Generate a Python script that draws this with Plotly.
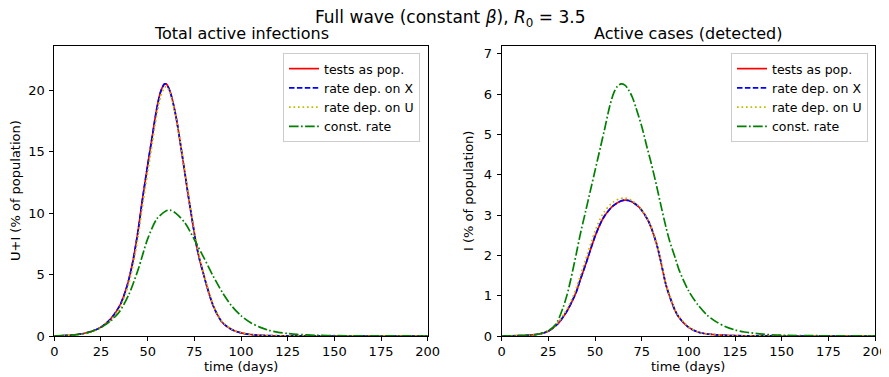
import plotly.graph_objects as go

# ---------------- data ----------------
# Left panel: total active infections U+I (% of population)
days_L = [0, 5, 10, 15, 20, 25, 30, 35, 38, 40, 42, 45, 47, 50, 52, 55, 57, 59, 60, 62,
          65, 68, 70, 72, 74, 76, 78, 80, 82, 85, 88, 90, 95, 100, 105, 110, 120, 130, 150, 175, 200]
tests_pop_L = [0.01, 0.03, 0.08, 0.18, 0.38, 0.72, 1.35, 2.45, 3.6, 4.65, 6.0, 8.7, 10.9, 13.9, 15.8, 18.6, 19.9, 20.5, 20.5, 19.9,
               18.0, 15.2, 13.2, 11.2, 9.3, 7.5, 6.1, 5.0, 3.9, 2.5, 1.55, 1.1, 0.52, 0.25, 0.12, 0.06, 0.02, 0.01, 0.0, 0.0, 0.0]
rate_X_L = [0.01, 0.03, 0.08, 0.18, 0.38, 0.72, 1.35, 2.45, 3.6, 4.65, 6.0, 8.7, 10.9, 13.9, 15.8, 18.6, 19.9, 20.5, 20.5, 19.9,
            18.0, 15.2, 13.2, 11.2, 9.3, 7.5, 6.1, 5.0, 3.9, 2.5, 1.55, 1.1, 0.52, 0.25, 0.12, 0.06, 0.02, 0.01, 0.0, 0.0, 0.0]
rate_U_L = [0.01, 0.03, 0.07, 0.16, 0.34, 0.66, 1.25, 2.25, 3.35, 4.35, 5.6, 8.2, 10.3, 13.3, 15.2, 18.1, 19.5, 20.2, 20.3, 19.8,
            17.9, 15.3, 13.4, 11.4, 9.5, 7.7, 6.2, 5.1, 4.0, 2.6, 1.6, 1.15, 0.55, 0.27, 0.13, 0.07, 0.02, 0.01, 0.0, 0.0, 0.0]

days_GL = [0, 5, 10, 15, 20, 25, 30, 35, 40, 45, 50, 55, 60, 62, 65, 70, 75, 80, 85, 90, 95,
           100, 105, 110, 115, 120, 125, 130, 140, 150, 175, 200]
const_L = [0.01, 0.03, 0.08, 0.18, 0.37, 0.7, 1.2, 2.0, 3.4, 5.45, 7.9, 9.55, 10.2, 10.25, 10.0, 9.2, 7.85, 6.4, 4.9, 3.55, 2.45,
           1.65, 1.1, 0.72, 0.46, 0.3, 0.2, 0.13, 0.06, 0.03, 0.01, 0.0]

# Right panel: detected active cases I (% of population)
days_R = [0, 10, 15, 20, 25, 30, 33, 35, 38, 40, 42, 45, 48, 50, 53, 55, 58, 60, 63, 66, 68, 70,
          73, 75, 78, 80, 83, 85, 88, 90, 93, 95, 100, 105, 110, 115, 120, 130, 150, 200]
tests_pop_R = [0.0, 0.01, 0.02, 0.05, 0.12, 0.3, 0.48, 0.62, 0.89, 1.1, 1.38, 1.78, 2.2, 2.47, 2.8, 2.97, 3.15, 3.24, 3.33, 3.37, 3.36, 3.32,
               3.22, 3.12, 2.9, 2.7, 2.28, 1.9, 1.27, 0.98, 0.62, 0.46, 0.22, 0.1, 0.05, 0.03, 0.015, 0.005, 0.0, 0.0]
rate_X_R = [0.0, 0.01, 0.02, 0.05, 0.12, 0.3, 0.48, 0.62, 0.89, 1.1, 1.38, 1.78, 2.2, 2.47, 2.8, 2.97, 3.15, 3.24, 3.33, 3.37, 3.36, 3.32,
            3.22, 3.12, 2.9, 2.7, 2.28, 1.9, 1.27, 0.98, 0.62, 0.46, 0.22, 0.1, 0.05, 0.03, 0.015, 0.005, 0.0, 0.0]
rate_U_R = [0.0, 0.01, 0.02, 0.05, 0.13, 0.32, 0.52, 0.67, 0.96, 1.19, 1.48, 1.9, 2.33, 2.6, 2.93, 3.08, 3.25, 3.33, 3.4, 3.42, 3.4, 3.35,
            3.24, 3.13, 2.92, 2.72, 2.3, 1.93, 1.3, 1.0, 0.64, 0.48, 0.23, 0.1, 0.05, 0.03, 0.015, 0.005, 0.0, 0.0]

days_GR = [0, 10, 15, 20, 25, 28, 30, 33, 35, 37, 40, 42, 45, 48, 50, 53, 55, 58, 60, 62, 64, 66, 68, 70,
           72, 75, 78, 80, 83, 85, 88, 90, 93, 95, 100, 105, 110, 115, 120, 125, 130, 140, 150, 175, 200]
const_R = [0.0, 0.01, 0.02, 0.05, 0.13, 0.24, 0.37, 0.72, 1.02, 1.4, 2.05, 2.5, 3.1, 3.7, 4.1, 4.7, 5.1, 5.72, 6.02, 6.19, 6.25, 6.22, 6.1, 5.92,
           5.65, 5.2, 4.65, 4.3, 3.72, 3.3, 2.7, 2.35, 1.93, 1.64, 1.13, 0.78, 0.52, 0.35, 0.23, 0.15, 0.1, 0.045, 0.02, 0.005, 0.0]

series_names = ["tests as pop.", "rate dep. on X", "rate dep. on U", "const. rate"]
x_ticks = [0, 25, 50, 75, 100, 125, 150, 175, 200]
y_ticks_L = [0, 5, 10, 15, 20]
y_ticks_R = [0, 1, 2, 3, 4, 5, 6, 7]

# ---------------- figure ----------------
# the page body adds an 8px margin, so the figure is drawn 8px in from the top-left
OFF = 8
W, H = 889 - OFF, 377 - OFF
FONT = "DejaVu Sans"

def px_x(p):
    return (p - OFF) / W

def px_y(p):
    return 1 - (p - OFF) / H

styles = [
    dict(color="#ff0000", dash="solid"),
    dict(color="#0000ff", dash="5.5px,2.4px"),
    dict(color="#bfbf00", dash="1.7px,2.8px"),
    dict(color="#008000", dash="9.6px,2.4px,1.7px,2.4px"),
]

fig = go.Figure()

left = [(days_L, tests_pop_L), (days_L, rate_X_L), (days_L, rate_U_L), (days_GL, const_L)]
right = [(days_R, tests_pop_R), (days_R, rate_X_R), (days_R, rate_U_R), (days_GR, const_R)]

for i, (xs, ys) in enumerate(left):
    fig.add_trace(go.Scatter(x=xs, y=ys, mode="lines", name=series_names[i],
                             line=dict(color=styles[i]["color"], dash=styles[i]["dash"], width=1.7,
                                       shape="spline", smoothing=0.8),
                             xaxis="x", yaxis="y", legend="legend"))
for i, (xs, ys) in enumerate(right):
    fig.add_trace(go.Scatter(x=xs, y=ys, mode="lines", name=series_names[i],
                             line=dict(color=styles[i]["color"], dash=styles[i]["dash"], width=1.7,
                                       shape="spline", smoothing=0.8),
                             xaxis="x2", yaxis="y2", legend="legend2"))

axis_common = dict(showgrid=False, zeroline=False, showline=True, linecolor="black", linewidth=1,
                   mirror=True, ticks="outside", ticklen=4, tickwidth=1, tickcolor="black",
                   automargin=False,
                   tickfont=dict(family=FONT, size=13, color="black"))
xax = dict(ticklabelstandoff=-1, **axis_common)
yax = dict(ticklabelstandoff=2, **axis_common)

legend_common = dict(y=px_y(53), xanchor="right", yanchor="top",
                     bgcolor="rgba(255,255,255,0.8)", bordercolor="#cccccc", borderwidth=1,
                     font=dict(family=FONT, size=12.5, color="black"), itemwidth=30, tracegroupgap=0)

fig.update_layout(
    width=W, height=H,
    margin=dict(l=0, r=0, t=0, b=0, autoexpand=False),
    paper_bgcolor="white", plot_bgcolor="white",
    font=dict(family=FONT, size=13, color="black"),
    xaxis=dict(domain=[px_x(54.3), px_x(427.7)], range=[0, 200], tickvals=x_ticks, anchor="y", **xax),
    yaxis=dict(domain=[px_y(336), px_y(46)], range=[0, 23.6], tickvals=y_ticks_L, anchor="x", **yax),
    xaxis2=dict(domain=[px_x(501.7), px_x(875)], range=[0, 200], tickvals=x_ticks, anchor="y2", **xax),
    yaxis2=dict(domain=[px_y(336), px_y(46)], range=[0, 7.19], tickvals=y_ticks_R, anchor="x2", **yax),
    legend=dict(x=px_x(420), **legend_common),
    legend2=dict(x=px_x(868), **legend_common),
    showlegend=True,
)

annotations = [
    dict(text="Full wave (constant <i>β</i>), <i>R</i><sub>0</sub> = 3.5", x=px_x(450), y=px_y(18),
         font=dict(size=17)),
    dict(text="Total active infections", x=px_x(241), y=px_y(33), font=dict(size=16)),
    dict(text="Active cases (detected)", x=px_x(688.3), y=px_y(33), font=dict(size=16)),
    dict(text="time (days)", x=px_x(241), y=px_y(366), font=dict(size=13)),
    dict(text="time (days)", x=px_x(688.3), y=px_y(366), font=dict(size=13)),
    dict(text="U+I (% of population)", x=px_x(16), y=px_y(191), textangle=-90, font=dict(size=13)),
    dict(text="I (% of population)", x=px_x(469), y=px_y(191), textangle=-90, font=dict(size=13)),
]
for a in annotations:
    a.update(xref="paper", yref="paper", showarrow=False, xanchor="center", yanchor="middle")
    a["font"] = dict(family=FONT, color="black", **a["font"])
fig.update_layout(annotations=annotations)

fig.write_html("out.html")
